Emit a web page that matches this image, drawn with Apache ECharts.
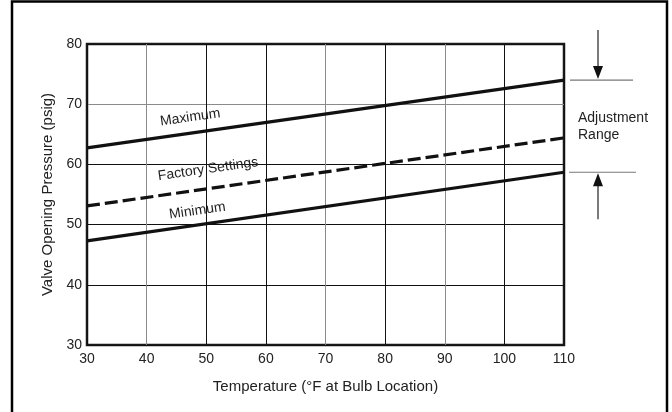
<!DOCTYPE html>
<html>
<head>
<meta charset="utf-8">
<script src="https://cdn.jsdelivr.net/npm/echarts@6/dist/echarts.min.js"></script>
<style>
html, body { margin: 0; padding: 0; background: #fff; }
#chart { width: 672px; height: 412px; }
</style>
</head>
<body>
<div id="chart"></div>
<script>
// temperatures (°F) at the two ends of each line
const temps = [30, 110]
const maximum = [62.75, 74.0]
const factory = [53.1, 64.4]
const minimum = [47.3, 58.7]
const xTicks = [30, 40, 50, 60, 70, 80, 90, 100, 110]
const yTicks = [30, 40, 50, 60, 70, 80]
const lineNames = ['Maximum', 'Factory Settings', 'Minimum']
const rangeText = 'Adjustment\nRange'

const font = 'Liberation Sans'
const dark = '#111'
const gray = '#8a8a8a'

function pairs(ys) {
  return temps.map((t, i) => [t, ys[i]])
}

const myChart = echarts.init(document.getElementById('chart'))

const option = {
  animation: false,
  backgroundColor: '#fff',
  grid: {
    left: 87, top: 44, right: 108, bottom: 67,
    show: true,
    borderColor: '#1a1a1a',
    borderWidth: 2.5,
    backgroundColor: 'transparent'
  },
  xAxis: {
    type: 'value',
    min: xTicks[0],
    max: xTicks[xTicks.length - 1],
    interval: 10,
    name: 'Temperature (°F at Bulb Location)',
    nameLocation: 'middle',
    nameGap: 34,
    nameTextStyle: { fontFamily: font, fontSize: 15, color: '#222' },
    axisLine: { show: false },
    axisTick: { show: false },
    axisLabel: { fontFamily: font, fontSize: 14, color: '#222', margin: 7 },
    splitLine: {
      show: true,
      lineStyle: { width: 1, color: [dark, gray, dark, dark, gray, dark, gray, dark, dark] }
    }
  },
  yAxis: {
    type: 'value',
    min: yTicks[0],
    max: yTicks[yTicks.length - 1],
    interval: 10,
    name: 'Valve Opening Pressure (psig)',
    nameLocation: 'middle',
    nameGap: 27,
    nameTextStyle: { fontFamily: font, fontSize: 15, color: '#222' },
    axisLine: { show: false },
    axisTick: { show: false },
    axisLabel: { fontFamily: font, fontSize: 14, color: '#222', margin: 5 },
    splitLine: {
      show: true,
      lineStyle: { width: 1, color: [dark, dark, dark, dark, gray, dark] }
    }
  },
  series: [
    {
      name: lineNames[0], type: 'line', data: pairs(maximum), symbol: 'none',
      lineStyle: { color: '#111', width: 3.2 }, z: 5
    },
    {
      name: lineNames[1], type: 'line', data: pairs(factory), symbol: 'none',
      lineStyle: { color: '#111', width: 3.2, type: [13, 5] }, z: 5
    },
    {
      name: lineNames[2], type: 'line', data: pairs(minimum), symbol: 'none',
      lineStyle: { color: '#111', width: 3.2 }, z: 5
    }
  ]
}

myChart.setOption(option)

// labels along the lines and the adjustment-range annotation
function px(pt) {
  return myChart.convertToPixel({ gridIndex: 0 }, pt)
}
function angleOf(ys) {
  const a = px([temps[0], ys[0]])
  const b = px([temps[1], ys[1]])
  return Math.atan2(a[1] - b[1], b[0] - a[0])
}

const labelSpots = [[47.3, 67.8], [50.3, 59.2], [48.5, 52.3]]
const labelLines = [maximum, factory, minimum]
const graphics = []

lineNames.forEach((name, i) => {
  const p = px(labelSpots[i])
  graphics.push({
    type: 'text',
    x: p[0], y: p[1],
    rotation: angleOf(labelLines[i]),
    style: {
      text: name, fontFamily: font, fontSize: 14, fill: '#222',
      align: 'center', verticalAlign: 'middle'
    },
    z: 10
  })
})

const topEnd = px([temps[1], maximum[1]])
const botEnd = px([temps[1], minimum[1]])
const ax = topEnd[0] + 34

graphics.push(
  { type: 'line', shape: { x1: topEnd[0] + 6, y1: topEnd[1], x2: topEnd[0] + 69, y2: topEnd[1] },
    style: { stroke: '#777', lineWidth: 1.2 } },
  { type: 'line', shape: { x1: botEnd[0] + 5, y1: botEnd[1], x2: botEnd[0] + 72, y2: botEnd[1] },
    style: { stroke: '#777', lineWidth: 1.2 } },
  { type: 'line', shape: { x1: ax, y1: 30, x2: ax, y2: topEnd[1] - 12 },
    style: { stroke: '#222', lineWidth: 1.2 } },
  { type: 'polygon', shape: { points: [[ax - 5, topEnd[1] - 14], [ax + 5, topEnd[1] - 14], [ax, topEnd[1] - 1]] },
    style: { fill: '#111' } },
  { type: 'line', shape: { x1: ax, y1: botEnd[1] + 12, x2: ax, y2: botEnd[1] + 47 },
    style: { stroke: '#222', lineWidth: 1.2 } },
  { type: 'polygon', shape: { points: [[ax - 5, botEnd[1] + 14], [ax + 5, botEnd[1] + 14], [ax, botEnd[1] + 1]] },
    style: { fill: '#111' } },
  { type: 'text', x: topEnd[0] + 14, y: (topEnd[1] + botEnd[1]) / 2,
    style: { text: rangeText, fontFamily: font, fontSize: 14, fill: '#222', lineHeight: 17,
      align: 'left', verticalAlign: 'middle' } },
  { type: 'rect', shape: { x: 12, y: 1.5, width: 655, height: 430 },
    style: { fill: 'none', stroke: '#000', lineWidth: 2.5 }, z: 20 }
)

myChart.setOption({ graphic: graphics })

window.addEventListener('resize', () => {
  myChart.resize()
})
</script>
</body>
</html>
